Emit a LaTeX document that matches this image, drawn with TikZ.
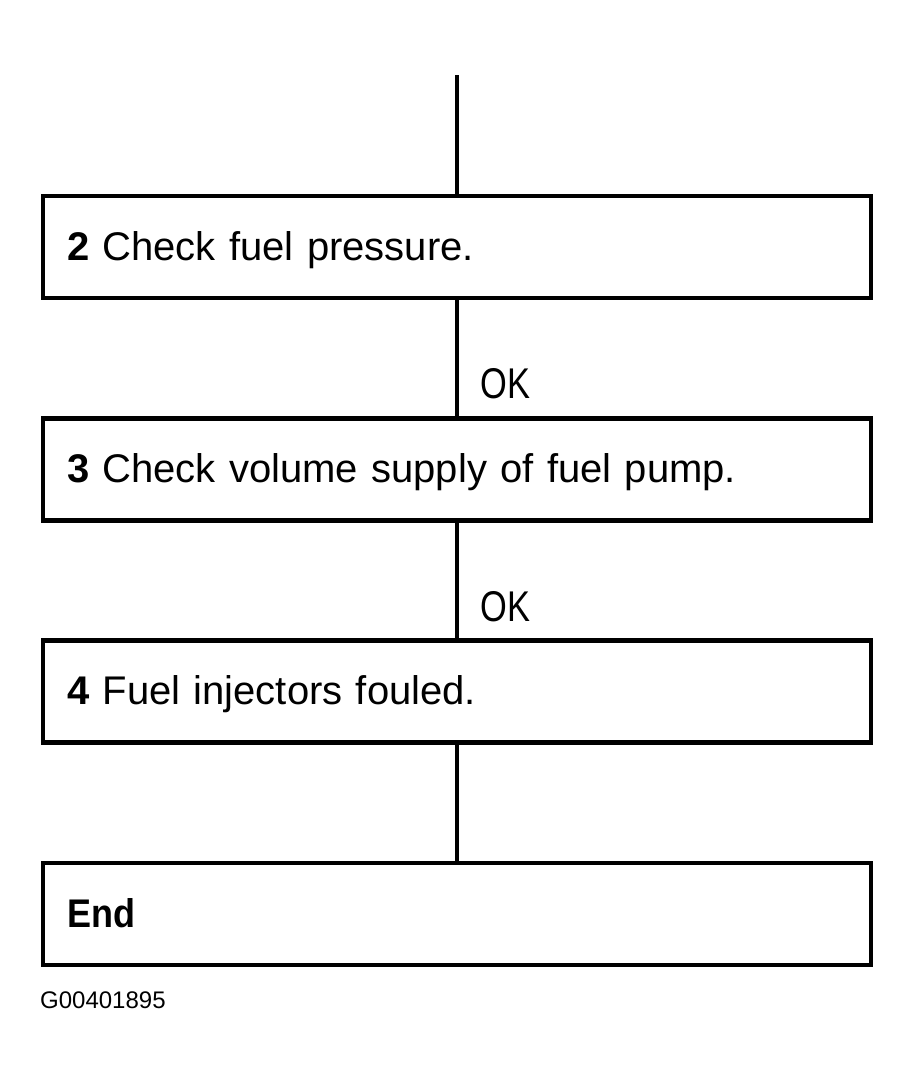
\documentclass[tikz,border=0pt]{standalone}
\usepackage{fontspec}
\setmainfont{Liberation Sans}
\newfontfamily\narrowfont[FakeStretch=0.8]{Liberation Sans}
\newfontfamily\endfont[FakeStretch=0.9]{Liberation Sans}
\usetikzlibrary{positioning}
\tikzset{
  stepbox/.style={draw, rectangle, line width=4.8pt, minimum width=828pt,
    minimum height=102pt, text width=780pt, inner xsep=24pt, align=left,
    text height=28.6pt, text depth=2pt, font=\fontsize{40}{46}\selectfont},
  oklabel/.style={inner sep=0pt, font=\narrowfont\fontsize{43}{48}\selectfont},
}
\begin{document}
\begin{tikzpicture}[x=1pt, y=-1pt, node distance=115.5pt]
      \useasboundingbox (0,0) rectangle (910,1085);
      \coordinate (top) at (457,75);
      \node[stepbox] (b2) at (457,247) {\textbf{2} Check fuel pressure.};
      \node[stepbox, below=of b2] (b3) {\textbf{3} Check volume supply of fuel pump.};
      \node[stepbox, below=of b3] (b4) {\textbf{4} Fuel injectors fouled.};
      \node[stepbox, below=of b4] (end) {\endfont\bfseries End};
      \node[anchor=base west, inner sep=0pt, font=\fontsize{24}{28}\selectfont] (code) at (40,1008) {G00401895};
      \begin{scope}[line width=4.8pt]
        \draw (top) to (b2);
        \draw (b2) to node[oklabel, pos=0.72, right=21pt] {OK} (b3);
        \draw (b3) to node[oklabel, pos=0.73, right=21pt] {OK} (b4);
        \draw (b4) to (end);
      \end{scope}
    \end{tikzpicture}
\end{document}
